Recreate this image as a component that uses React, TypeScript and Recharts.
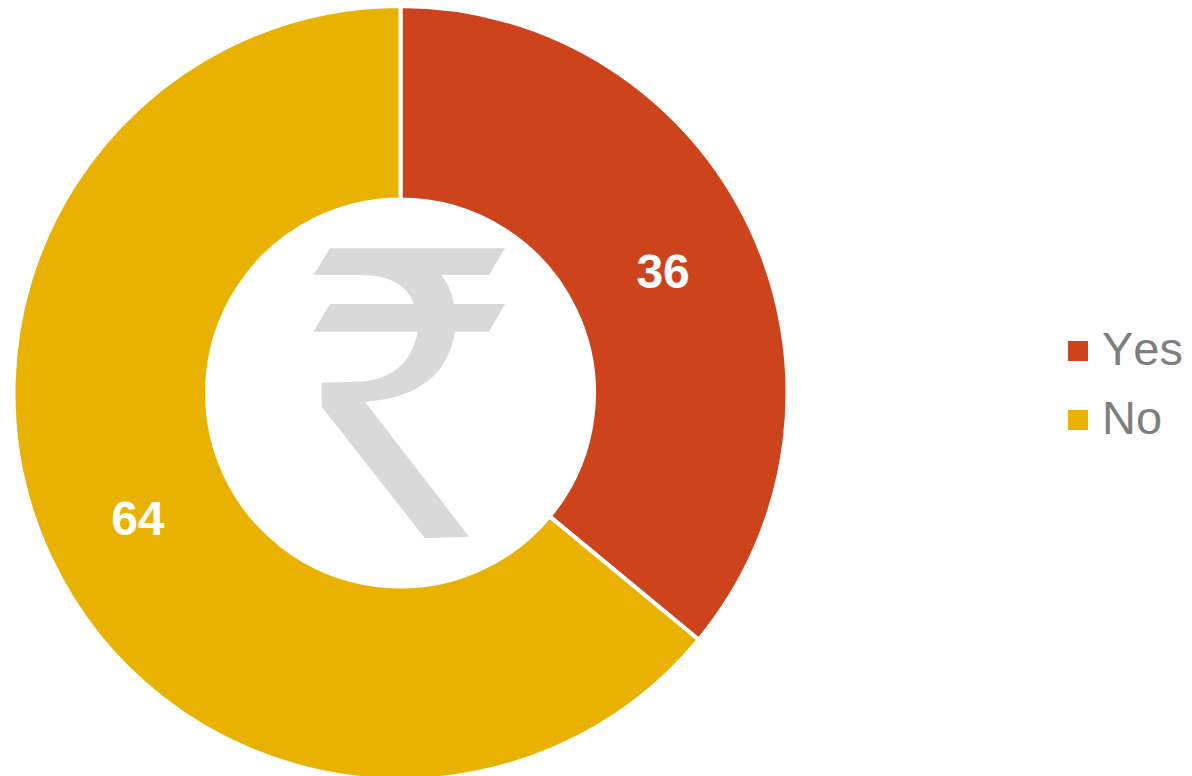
import React from 'react';
import { PieChart, Pie, Cell, Legend } from 'recharts';

const categories = ['Yes', 'No'];
const values = [36, 64];
const colors = ['#CC431C', '#E9B200'];

const chartData = categories.map((name, i) => ({ name, value: values[i] }));

const RUPEE_PATH =
  'M330 248.3 L505 248.3 L489 275 L441.7 275 C448 284 452 293 454 304 L505 304 L489 331.7 L455 331.7 ' +
  'C448 376 416 398 365 401.7 L469 536.7 L425 538.3 L321.7 406.7 L321.7 382.7 L356.7 381.7 ' +
  'C392 381 412 362 417.7 331.7 L313.3 331.7 L330 304 L414 304 C408 286 390 275 361.7 275 L313.3 275 Z';

const RADIAN = Math.PI / 180;

function renderLabel(props: any) {
  const { cx, cy, midAngle, innerRadius, outerRadius, value } = props;
  const r = (innerRadius + outerRadius) / 2;
  const x = cx + r * Math.cos(-midAngle * RADIAN);
  const y = cy + r * Math.sin(-midAngle * RADIAN);
  return (
    <text x={x} y={y + 2} fill="#fff" fontSize={48} fontWeight={700} textAnchor="middle" dominantBaseline="central">
      {value}
    </text>
  );
}

function LegendList() {
  return (
    <div>
      {categories.map((name, i) => (
        <div key={name} style={{ display: 'flex', alignItems: 'center', height: 69 }}>
          <span style={{ width: 20, height: 20, background: colors[i], marginRight: 14 }} />
          <span style={{ fontSize: 47, color: '#7F7F7F', lineHeight: '69px', fontKerning: 'none', position: 'relative', top: -2 }}>{name}</span>
        </div>
      ))}
    </div>
  );
}

export default function App() {
  return (
    <div style={{ position: 'absolute', left: 0, top: 0, width: 1192, height: 776, fontFamily: '"Liberation Sans", Arial, sans-serif', overflow: 'hidden' }}>
      <PieChart width={1192} height={776} margin={{ top: 0, right: 0, bottom: 0, left: 0 }}>
        <Pie
          data={chartData}
          dataKey="value"
          nameKey="name"
          cx={400.5}
          cy={393}
          innerRadius={193.5}
          outerRadius={387}
          startAngle={90}
          endAngle={-270}
          stroke="#fff"
          strokeWidth={4}
          label={renderLabel}
          labelLine={false}
          isAnimationActive={false}
        >
          {chartData.map((d, i) => (
            <Cell key={d.name} fill={colors[i]} />
          ))}
        </Pie>
        <Legend content={() => <LegendList />} wrapperStyle={{ left: 1068, top: 316, width: 124, bottom: 'auto' }} />
      </PieChart>
      <svg width={1192} height={776} style={{ position: 'absolute', left: 0, top: 0, pointerEvents: 'none' }}>
        <path d={RUPEE_PATH} fill="#D9D9D9" />
      </svg>
    </div>
  );
}
